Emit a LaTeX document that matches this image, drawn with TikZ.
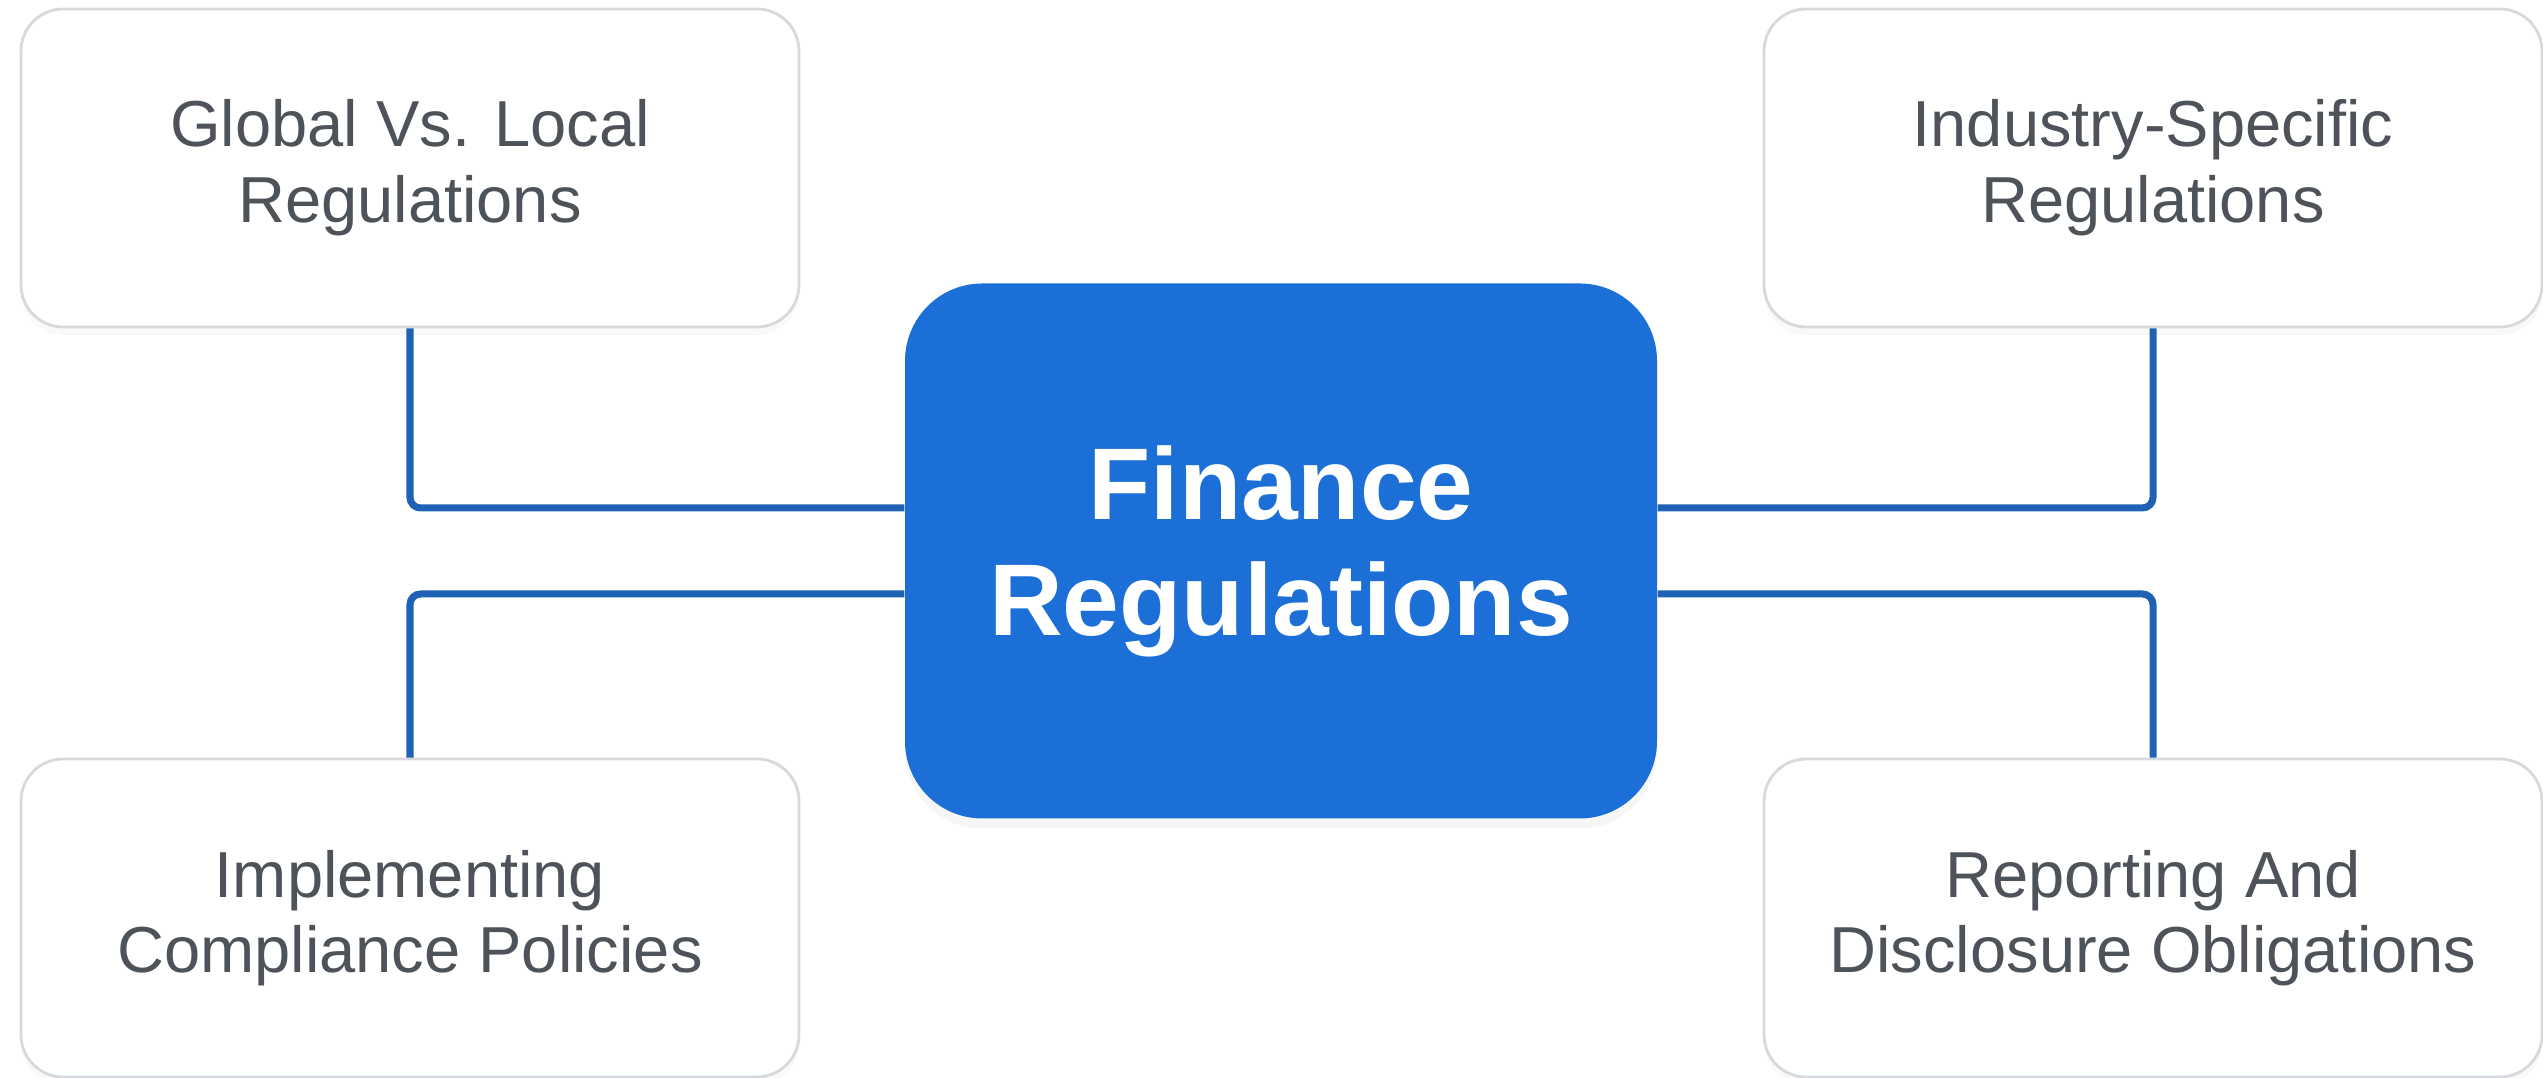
\documentclass[tikz,border=0pt]{standalone}
\usepackage{fontspec}
\setmainfont{Liberation Sans}
\usepackage{tikz}
\usetikzlibrary{shadows}
\definecolor{finblue}{HTML}{1B6FD6}
\definecolor{linkblue}{HTML}{1F62B5}
\definecolor{boxline}{HTML}{D6D9DD}
\definecolor{labelgray}{HTML}{4E535A}

\begin{document}
\begin{tikzpicture}[
        topic/.style={draw=boxline, line width=0.8pt, fill=white, rounded corners=12pt,
            minimum width=7.78cm, minimum height=3.18cm, align=center, text=labelgray,
            font=\fontsize{18.5}{21.5}\selectfont,
            drop shadow={opacity=0.05, shadow xshift=0pt, shadow yshift=-0.8mm}},
        hub/.style={fill=finblue, rounded corners=22pt, minimum width=7.52cm, minimum height=5.35cm,
            align=center, text=white, font=\bfseries\fontsize{29}{33}\selectfont,
            drop shadow={opacity=0.07, shadow xshift=0pt, shadow yshift=-1mm}},
        link/.style={draw=linkblue, line width=2pt, rounded corners=3pt}
    ]
        \useasboundingbox (0,0) rectangle (25.43,10.78);
        \node[hub] (fin) at (12.81,5.27) {Finance\\Regulations};
        \node[topic] (glob) at (4.10,9.10) {Global Vs. Local\\Regulations};
        \node[topic] (indus) at (21.53,9.10) {Industry-Specific\\Regulations};
        \node[topic] (impl) at (4.10,1.60) {Implementing\\Compliance Policies};
        \node[topic] (report) at (21.53,1.60) {Reporting And\\Disclosure Obligations};
        \draw[link] (glob.south) |- ([yshift=4.3mm]fin.west);
        \draw[link] (impl.north) |- ([yshift=-4.3mm]fin.west);
        \draw[link] (indus.south) |- ([yshift=4.3mm]fin.east);
        \draw[link] (report.north) |- ([yshift=-4.3mm]fin.east);
    \end{tikzpicture}
\end{document}
